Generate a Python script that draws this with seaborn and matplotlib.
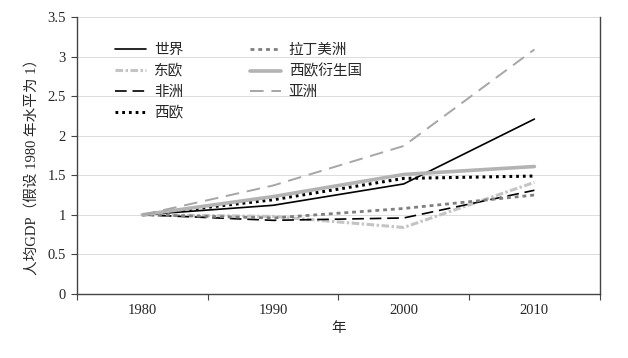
import numpy as np
import pandas as pd
import matplotlib
matplotlib.use('Agg')
import matplotlib.pyplot as plt
from matplotlib.ticker import FixedLocator, NullFormatter
import seaborn as sb

# 数据（1980 年 = 1）
years = ['1980', '1990', '2000', '2010']
world = [1.0, 1.12, 1.39, 2.21]
east_europe = [1.0, 0.98, 0.84, 1.41]
africa = [1.0, 0.93, 0.96, 1.31]
west_europe = [1.0, 1.19, 1.46, 1.49]
latin_america = [1.0, 0.96, 1.08, 1.25]
offshoots = [1.0, 1.23, 1.51, 1.61]
asia = [1.0, 1.37, 1.87, 3.09]

regions = ['世界', '东欧', '非洲', '西欧', '拉丁美洲', '西欧衍生国', '亚洲']
values = [world, east_europe, africa, west_europe, latin_america, offshoots, asia]

df = pd.DataFrame({r: v for r, v in zip(regions, values)})
df['pos'] = np.arange(len(years))

styles = {
    '世界': dict(color='black', lw=1.2, ls='-'),
    '东欧': dict(color='#c4c4c4', lw=2.2, ls=(0, (2.5, 0.8, 0.8, 0.8))),
    '非洲': dict(color='black', lw=1.2, ls=(0, (7, 3.5))),
    '西欧': dict(color='black', lw=2.2, ls=(0, (0.9, 1.3))),
    '拉丁美洲': dict(color='#7f7f7f', lw=2.0, ls=(0, (1.4, 1.4))),
    '西欧衍生国': dict(color='#b3b3b3', lw=2.6, ls='-'),
    '亚洲': dict(color='#a6a6a6', lw=1.4, ls=(0, (7, 4))),
}

sb.set_style('white')
plt.rcParams['font.family'] = ['Liberation Serif', 'Noto Sans CJK SC']
plt.rcParams['axes.unicode_minus'] = False

fig = plt.figure(figsize=(6.28, 3.58), dpi=100)
ax = fig.add_axes([0.1226, 0.179, 0.8324, 0.7735])

for r in regions:
    s = styles[r]
    sb.lineplot(data=df, x='pos', y=r, ax=ax, color=s['color'],
                linewidth=s['lw'], linestyle=s['ls'], label=r)

ax.set_xlim(-0.5, 3.5)
ax.set_ylim(0, 3.5)
ax.set_yticks(np.arange(0, 3.51, 0.5))
ax.set_yticklabels(['0', '0.5', '1', '1.5', '2', '2.5', '3', '3.5'])
ax.yaxis.grid(True, color='#dcdcdc', lw=0.7)
ax.xaxis.grid(False)

# 分类轴：刻度在类别边界，标签在中间
ax.xaxis.set_major_locator(FixedLocator(np.arange(-0.5, 3.6, 1)))
ax.xaxis.set_major_formatter(NullFormatter())
ax.xaxis.set_minor_locator(FixedLocator(df['pos']))
ax.set_xticklabels(years, minor=True)
ax.tick_params(axis='x', which='major', direction='out', length=4, color='#444444', bottom=True)
ax.tick_params(axis='x', which='minor', length=0, pad=7, labelsize=10.5, bottom=True)
ax.tick_params(axis='y', direction='out', length=4, color='#444444', left=True, labelsize=10.5, pad=4)

for side in ['left', 'bottom', 'right']:
    ax.spines[side].set_visible(True)
    ax.spines[side].set_color('#444444')
    ax.spines[side].set_linewidth(1.0)
ax.spines['top'].set_visible(False)

ax.set_xlabel('年', fontsize=10.5, labelpad=4)
ax.set_ylabel('人均GDP（假设 1980 年水平为 1）', fontsize=10.5)
ax.yaxis.set_label_coords(-0.073, 0.473)

ax.legend(ncol=2, frameon=False, loc='upper left', bbox_to_anchor=(0.073, 0.903),
          borderaxespad=0, borderpad=0,
          fontsize=10.5, handlelength=2.1, columnspacing=4.6, labelspacing=0.5,
          handletextpad=0.55)

plt.savefig('out.png', dpi=100)
